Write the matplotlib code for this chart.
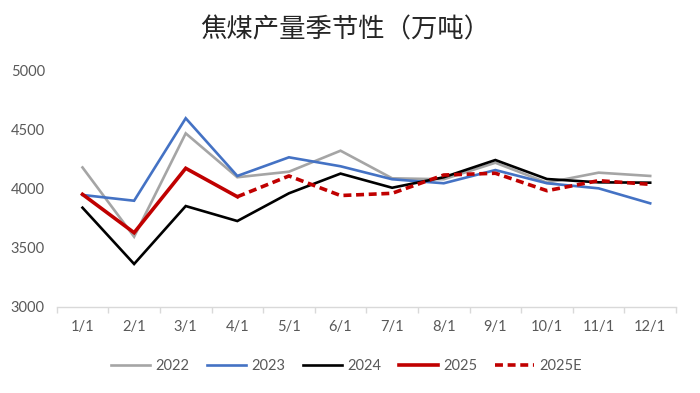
import matplotlib
matplotlib.use("Agg")
import matplotlib.pyplot as plt

# month labels on the category axis
months = ["1/1", "2/1", "3/1", "4/1", "5/1", "6/1", "7/1", "8/1", "9/1", "10/1", "11/1", "12/1"]

# coking coal output (10k t)
y2022 = [4180, 3593, 4469, 4097, 4144, 4322, 4088, 4080, 4220, 4051, 4136, 4108]
y2023 = [3947, 3898, 4597, 4108, 4266, 4190, 4080, 4046, 4158, 4046, 4003, 3876]
y2024 = [3839, 3362, 3853, 3726, 3961, 4128, 4008, 4097, 4243, 4082, 4054, 4051]
y2025 = [3952, 3627, 4173, 3932]
# estimate continues from April
y2025e = [3932, 4108, 3942, 3961, 4116, 4131, 3983, 4068, 4037]

tick_font = "Lato"
grey_txt = "#595959"

fig = plt.figure(figsize=(7.0, 3.93), dpi=100)
ax = fig.add_axes([0.081, 0.2196, 0.8847, 0.6005])

x = list(range(len(months)))
ax.plot(x, y2022, color="#A5A5A5", lw=1.9, label="2022", solid_joinstyle="miter")
ax.plot(x, y2023, color="#4472C4", lw=1.9, label="2023", solid_joinstyle="miter")
ax.plot(x, y2024, color="#000000", lw=1.9, label="2024", solid_joinstyle="miter")
ax.plot(x[:len(y2025)], y2025, color="#C00000", lw=2.6, label="2025", solid_joinstyle="miter")
ax.plot(x[3:3 + len(y2025e)], y2025e, color="#C00000", lw=2.6, ls=(0, (2.2, 1.3)),
        label="2025E")

ax.set_xlim(-0.5, 11.5)
ax.set_ylim(3000, 5000)
ax.set_yticks([3000, 3500, 4000, 4500, 5000])
ax.set_xticks(x)
ax.set_xticklabels(months)
ax.set_xticks([i - 0.5 for i in range(13)], minor=True)

for s in ["top", "right", "left"]:
    ax.spines[s].set_visible(False)
ax.spines["bottom"].set_color("#D9D9D9")
ax.spines["bottom"].set_linewidth(1.0)

ax.tick_params(axis="x", which="major", length=0, pad=9.5)
ax.tick_params(axis="x", which="minor", length=4, color="#D9D9D9", width=1.0)
ax.tick_params(axis="y", length=0, pad=8.5)
for lab in ax.get_xticklabels() + ax.get_yticklabels():
    lab.set_fontfamily(tick_font)
    lab.set_fontsize(10.5)
    lab.set_color(grey_txt)

fig.text(0.493, 0.924, "焦煤产量季节性（万吨）", ha="center", va="center",
         fontsize=19, color="#262626", family=["Noto Sans CJK SC", "DejaVu Sans"])

leg = fig.legend(loc="center", bbox_to_anchor=(0.495, 0.069), ncol=5, frameon=False,
                 handlelength=2.7, handletextpad=0.35, columnspacing=1.2,
                 prop={"family": tick_font, "size": 10.5})
for t in leg.get_texts():
    t.set_color(grey_txt)

fig.savefig("out.png", dpi=100)
